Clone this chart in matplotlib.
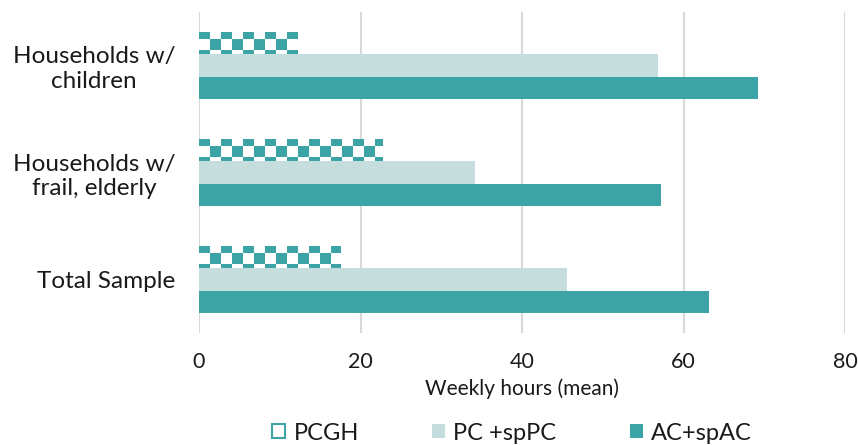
import numpy as np
import matplotlib
matplotlib.use("Agg")
import matplotlib.pyplot as plt
from matplotlib.patches import Patch
from matplotlib.colors import ListedColormap

plt.rcParams['font.family'] = ['Lato', 'DejaVu Sans']

categories = ["Households w/\nchildren", "Households w/\nfrail, elderly", "Total Sample"]
series_names = ["PCGH", "PC +spPC", "AC+spAC"]
pcgh = [12.3, 22.8, 17.6]
pc_sppc = [56.8, 34.2, 45.6]
ac_spac = [69.2, 57.2, 63.2]
x_ticks = [0, 20, 40, 60, 80]

TEAL = "#3DA4A6"
LIGHT = "#C5DDDD"
GRID = "#D9D9D9"
TXT = "#1a1a1a"

fig = plt.figure(figsize=(8.58, 4.45), dpi=100)
ax = fig.add_axes([199/858, 1-333/445, (845-199)/858, (333-12)/445])

y = np.arange(len(categories))
h = 0.206

bars_pcgh = ax.barh(y - h, pcgh, height=h, color="white", edgecolor="none", zorder=2)
ax.barh(y, pc_sppc, height=h, color=LIGHT, edgecolor="none", zorder=2)
ax.barh(y + h, ac_spac, height=h, color=TEAL, edgecolor="none", zorder=2)

# checkerboard fill for PCGH bars
sq_w = 1.362
cmap = ListedColormap(["white", TEAL])
for rect in bars_pcgh:
    x0, y0, w, hh = rect.get_x(), rect.get_y(), rect.get_width(), rect.get_height()
    xe = np.append(np.arange(x0, x0 + w - 1e-6, sq_w), x0 + w)
    ye = np.array([y0, y0 + 0.30 * hh, y0 + 0.78 * hh, y0 + hh])
    nr, nc = len(ye) - 1, len(xe) - 1
    C = ((np.arange(nr)[:, None] + np.arange(nc)[None, :]) % 2 == 0).astype(float)
    ax.pcolormesh(xe, ye, C, cmap=cmap, vmin=0, vmax=1, zorder=3,
                  edgecolors="none", antialiased=True)

ax.set_xlim(0, 80)
ax.set_ylim(2.5, -0.5)
ax.set_xticks(x_ticks)
ax.set_xticklabels([str(t) for t in x_ticks])
ax.set_yticks(y)
ax.set_yticklabels(categories, multialignment="center")
ax.grid(axis="x", color=GRID, linewidth=1.5, zorder=0)
ax.set_axisbelow(True)
for s in ax.spines.values():
    s.set_visible(False)
ax.tick_params(axis="both", length=0, colors=TXT)
ax.tick_params(axis="y", pad=17, labelsize=17.5)
ax.tick_params(axis="x", pad=14, labelsize=15.5)
ax.set_xlabel("Weekly hours (mean)", fontsize=15, color=TXT, labelpad=4)

handles = [Patch(facecolor="white", edgecolor=TEAL, linewidth=1.5),
           Patch(facecolor=LIGHT, edgecolor="none"),
           Patch(facecolor=TEAL, edgecolor="none")]
fig.legend(handles, series_names, loc="center", bbox_to_anchor=(512/858, 1-433/445),
           ncol=3, frameon=False, fontsize=17, handlelength=0.55, handleheight=0.55,
           handletextpad=0.35, columnspacing=3.1, labelcolor=TXT)

fig.savefig("out.png", dpi=100)
